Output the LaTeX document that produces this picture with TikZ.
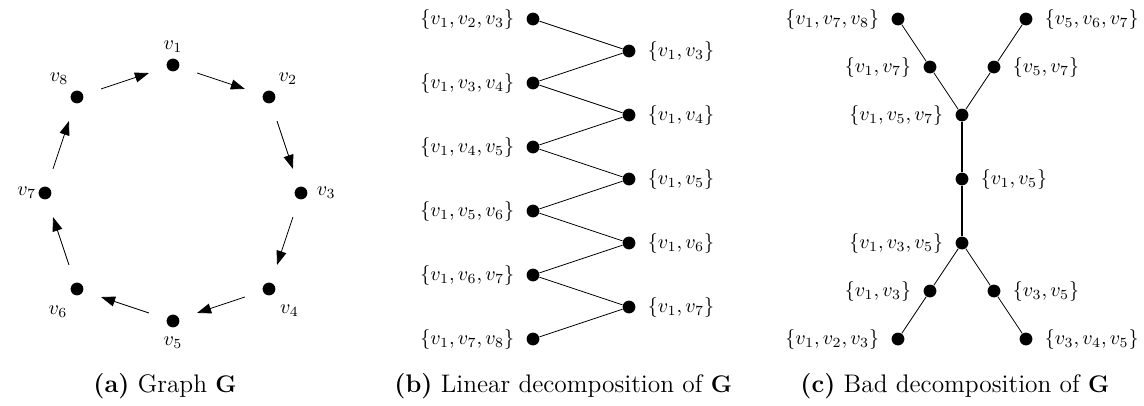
\documentclass[tikz,border=0pt]{standalone}
\usepackage{amsmath,amssymb}
\usetikzlibrary{arrows.meta,positioning,calc}

\begin{document}
\begin{tikzpicture}[x=16pt,y=16pt,label distance=2.5pt,
  dot/.style={circle,fill=black,inner sep=0pt,minimum size=6.4pt},
  arr/.style={-{Triangle[length=7pt,width=5pt]},shorten <=9.3pt,shorten >=9.3pt},
  subcap/.style={anchor=base,font=\fontsize{12.7}{15}\selectfont}]
\useasboundingbox (0,0) rectangle (35.75,-12.6875);
% (a) the cycle
\begin{scope}[shift={(5.406,-6.031)},label distance=0pt]
\node[dot,label={[label distance=-0.5pt]above:$v_1$}] (v1) at (0,4) {};
\node[dot,label={[label distance=-0.5pt]65:$v_2$}] (v2) at (3,3) {};
\node[dot,label={[label distance=1pt]right:$v_3$}] (v3) at (4,0) {};
\node[dot,label={[label distance=1.5pt]-65:$v_4$}] (v4) at (3,-3) {};
\node[dot,label={[label distance=1pt]below:$v_5$}] (v5) at (0,-4) {};
\node[dot,label={[label distance=1.5pt]-105:$v_6$}] (v6) at (-3,-3) {};
\node[dot,label={[label distance=-2.5pt]left:$v_7$}] (v7) at (-4,0) {};
\node[dot,label={[label distance=-0.5pt]105:$v_8$}] (v8) at (-3,3) {};
\end{scope}
\foreach \u/\v in {v1/v2,v2/v3,v3/v4,v4/v5,v5/v6,v6/v7,v7/v8,v8/v1}{\draw[arr] (\u) -- (\v);}
% (b) path decomposition
\foreach \i in {1,...,6}{
  \pgfmathtruncatemacro\j{\i+1}\pgfmathtruncatemacro\k{\i+2}
  \node[dot,label=left:{$\{v_1,v_{\j},v_{\k}\}$}] (l\i) at (16.656,{-0.594-2*(\i-1)}) {};
}
\foreach \i in {1,...,5}{
  \pgfmathtruncatemacro\k{\i+2}
  \node[dot,label=right:{$\{v_1,v_{\k}\}$}] (r\i) at (19.656,{-1.594-2*(\i-1)}) {};
}
\foreach \i in {1,...,5}{\pgfmathtruncatemacro\n{\i+1}\draw (l\i) -- (r\i) -- (l\n);}
% (c) tree decomposition
\begin{scope}[shift={(30.0625,-5.594)}]
\node[dot,label=left:{$\{v_1,v_7,v_8\}$}]  (c178) at (-2,5) {};
\node[dot,label=right:{$\{v_5,v_6,v_7\}$}] (c567) at (2,5) {};
\node[dot,label=left:{$\{v_1,v_7\}$}]      (c17)  at (-1,3.5) {};
\node[dot,label=right:{$\{v_5,v_7\}$}]     (c57)  at (1,3.5) {};
\node[dot,label=left:{$\{v_1,v_5,v_7\}$}]  (c157) at (0,2) {};
\node[dot,label=right:{$\{v_1,v_5\}$}]     (c15)  at (0,0) {};
\node[dot,label=left:{$\{v_1,v_3,v_5\}$}]  (c135) at (0,-2) {};
\node[dot,label=left:{$\{v_1,v_3\}$}]      (c13)  at (-1,-3.5) {};
\node[dot,label=right:{$\{v_3,v_5\}$}]     (c35)  at (1,-3.5) {};
\node[dot,label=left:{$\{v_1,v_2,v_3\}$}]  (c123) at (-2,-5) {};
\node[dot,label=right:{$\{v_3,v_4,v_5\}$}] (c345) at (2,-5) {};
\end{scope}
\draw (c178) -- (c17) -- (c157) -- (c57) -- (c567);
\draw[semithick] (c157) -- (c15) -- (c135);
\draw (c123) -- (c13) -- (c135) -- (c35) -- (c345);
% captions
\node[subcap] (capa) at (5.156,-12.28) {\textbf{(a)} Graph $\mathbf{G}$};
\node[subcap] (capb) at (17.6,-12.28) {\textbf{(b)} Linear decomposition of $\mathbf{G}$};
\node[subcap] (capc) at (29.84,-12.28) {\textbf{(c)} Bad decomposition of $\mathbf{G}$};
\end{tikzpicture}
\end{document}
